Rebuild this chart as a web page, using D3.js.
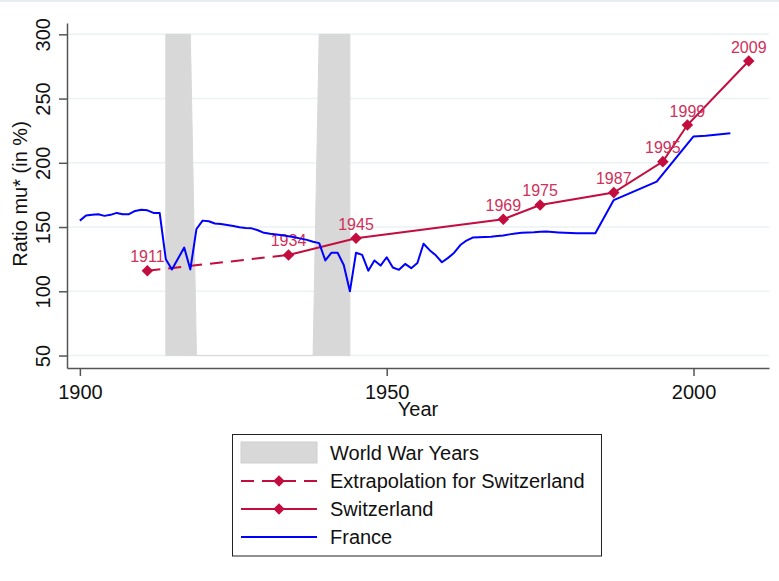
<!DOCTYPE html>
<html>
<head>
<meta charset="utf-8">
<script src="https://cdn.jsdelivr.net/npm/d3@7"></script>
<style>
  body { margin: 0; background: #fff; }
  text { font-family: "Liberation Sans", Arial, sans-serif; }
</style>
</head>
<body>
<div id="chart"></div>
<script>
// France (annual where the line has a vertex)
var franceYears = [1900,1901,1902,1903,1904,1905,1906,1907,1908,1909,1910,1911,1912,1913,
  1914,1915,1916,1917,1918,1919,1920,1921,1922,1923,1924,1925,1926,1927,1928,1929,
  1930,1931,1932,1933,1934,1935,1936,1937,1938,1939,1940,1941,1942,1943,1944,1945,
  1946,1947,1948,1949,1950,1951,1952,1953,1954,1955,1956,1957,1958,1959,1960,1961,
  1962,1963,1964,1965,1966,1967,1968,1969,1970,1971,1972,1973,1974,1975,1976,1977,
  1978,1979,1980,1981,1982,1983,1984,1987,1994,2000,2002,2004,2006];
var franceValues = [155,159,159.5,160,158.7,159.5,161,160,160,162.5,163.5,163,161,161,
  125,117,125.5,134,117,148.5,155,154.5,152.8,152.3,151.6,150.8,149.8,149.3,149,147.5,
  145.5,144.7,144.2,143.6,142.8,142,141,140,138.5,137.5,124,130,130,120.5,100,130,
  128.3,116,124,120,126.5,118.5,116.7,121.3,118,122,137,132,128,122.6,126,130,
  136,139.5,141.8,142,142.2,142.5,143,143.5,144.3,145,145.5,145.8,146,146.4,146.5,146.2,
  145.8,145.5,145.3,145.2,145.2,145.2,145.2,171,185.4,220.5,221,222,223];

// Switzerland
var swissYears = [1911,1934,1945,1969,1975,1987,1995,1999,2009];
var swissValues = [116,128.3,141.3,156.1,167.2,176.8,200.9,229.4,279.2];
var extrapYears = [1911,1934];

// World war shading
var warYears = [1914,1918,1919,1938,1939,1944];
var warValues = [300,300,50,50,300,300];

var xTicks = [1900,1950,2000];
var yTicks = [50,100,150,200,250,300];
var legendLabels = ['World War Years','Extrapolation for Switzerland','Switzerland','France'];

var svgWidth = 779, svgHeight = 581;
var red = '#c30d3f', redText = '#d0305a', blue = '#0000ff', gray = '#d8d8d8';

var svg = d3.select('#chart')
        .append('svg')
        .attr('width', svgWidth)
        .attr('height', svgHeight);

var xScale = d3.scaleLinear().domain([1897.9, 2012.3]).range([67, 769]);
var yScale = d3.scaleLinear().domain([40.3, 308.8]).range([368, 23]);

// faint outer edge
svg.append('line').attr('x1', 0).attr('x2', svgWidth).attr('y1', 1).attr('y2', 1)
        .attr('stroke', '#e6eef1').attr('stroke-width', 2);

// gridlines
svg.selectAll('.grid')
        .data(yTicks)
        .enter()
        .append('line')
        .attr('x1', 67).attr('x2', 769)
        .attr('y1', function(d){ return yScale(d); })
        .attr('y2', function(d){ return yScale(d); })
        .attr('stroke', '#eaf2f3')
        .attr('stroke-width', 1.5);

// war years area
var war = warYears.map(function(y, i){ return [y, warValues[i]]; });
var area = d3.area()
        .x(function(d){ return xScale(d[0]); })
        .y0(yScale(50))
        .y1(function(d){ return yScale(d[1]); });
svg.append('path')
        .datum(war)
        .attr('d', area)
        .attr('fill', gray)
        .attr('stroke', gray)
        .attr('stroke-width', 1);

var line = d3.line()
        .x(function(d){ return xScale(d[0]); })
        .y(function(d){ return yScale(d[1]); });

var swiss = swissYears.map(function(y, i){ return [y, swissValues[i]]; });
var extrap = swiss.filter(function(d){ return d[0] <= extrapYears[1]; });
var solid = swiss.filter(function(d){ return d[0] >= extrapYears[1]; });

svg.append('path').datum(extrap).attr('d', line)
        .attr('fill', 'none').attr('stroke', red).attr('stroke-width', 2)
        .attr('stroke-dasharray', '13,8');

svg.append('path').datum(solid).attr('d', line)
        .attr('fill', 'none').attr('stroke', red).attr('stroke-width', 2);

var diamond = d3.symbol().type(d3.symbolDiamond2).size(85);

svg.selectAll('.mark')
        .data(swiss)
        .enter()
        .append('path')
        .attr('d', diamond)
        .attr('fill', red)
        .attr('transform', function(d){ return 'translate(' + xScale(d[0]) + ',' + yScale(d[1]) + ')'; });

svg.selectAll('.mlab')
        .data(swiss)
        .enter()
        .append('text')
        .attr('x', function(d){ return xScale(d[0]); })
        .attr('y', function(d){ return yScale(d[1]) - 8.5; })
        .attr('text-anchor', 'middle')
        .attr('fill', redText)
        .style('font-size', '16px')
        .text(function(d){ return d[0]; });

// France
var france = franceYears.map(function(y, i){ return [y, franceValues[i]]; });
svg.append('path').datum(france).attr('d', line)
        .attr('fill', 'none').attr('stroke', blue).attr('stroke-width', 2)
        .attr('stroke-linejoin', 'round');

// axes
var xAxis = d3.axisBottom(xScale).tickValues(xTicks).tickSize(8).tickSizeOuter(0).tickFormat(d3.format('d'));
var yAxis = d3.axisLeft(yScale).tickValues(yTicks).tickSize(8).tickSizeOuter(0);

var gx = svg.append('g')
        .attr('transform', 'translate(0,368)')
        .call(xAxis);
gx.selectAll('text').attr('y', 30.5).attr('dy', 0);

var gy = svg.append('g')
        .attr('transform', 'translate(67,0)')
        .call(yAxis);
gy.selectAll('text')
        .attr('transform', 'rotate(-90)')
        .attr('x', 0).attr('y', -17).attr('dy', 0)
        .style('text-anchor', 'middle');

svg.selectAll('.domain, .tick line').attr('stroke', '#555').attr('stroke-width', 1.5);
svg.selectAll('.tick text').attr('fill', '#111').style('font-size', '20px')
        .style('font-family', '"Liberation Sans", Arial, sans-serif');

svg.append('text')
        .attr('x', 418).attr('y', 416)
        .attr('text-anchor', 'middle')
        .style('font-size', '20px')
        .attr('fill', '#111')
        .text('Year');

svg.append('text')
        .attr('transform', 'translate(27,194) rotate(-90)')
        .attr('text-anchor', 'middle')
        .style('font-size', '20px')
        .attr('fill', '#111')
        .text('Ratio mu* (in %)');

// legend
var legend = svg.append('g');
legend.append('rect')
        .attr('x', 232.5).attr('y', 434.5)
        .attr('width', 369).attr('height', 121.5)
        .attr('fill', '#fff').attr('stroke', '#222').attr('stroke-width', 1);

var rowY = [453, 481, 509, 537];
legend.selectAll('.ltext')
        .data(legendLabels)
        .enter()
        .append('text')
        .attr('x', 330)
        .attr('y', function(d, i){ return rowY[i] + 7; })
        .style('font-size', '20px')
        .attr('fill', '#111')
        .text(function(d){ return d; });

legend.append('rect')
        .attr('x', 241).attr('y', 442)
        .attr('width', 76).attr('height', 21)
        .attr('fill', gray).attr('stroke', '#cfcfcf');

legend.append('line')
        .attr('x1', 241).attr('x2', 317).attr('y1', rowY[1]).attr('y2', rowY[1])
        .attr('stroke', red).attr('stroke-width', 2).attr('stroke-dasharray', '13,8');
legend.append('line')
        .attr('x1', 241).attr('x2', 317).attr('y1', rowY[2]).attr('y2', rowY[2])
        .attr('stroke', red).attr('stroke-width', 2);
legend.append('line')
        .attr('x1', 241).attr('x2', 317).attr('y1', rowY[3]).attr('y2', rowY[3])
        .attr('stroke', blue).attr('stroke-width', 2);

[rowY[1], rowY[2]].forEach(function(y){
    legend.append('path')
            .attr('d', diamond)
            .attr('fill', red)
            .attr('transform', 'translate(279,' + y + ')');
});
</script>
</body>
</html>
